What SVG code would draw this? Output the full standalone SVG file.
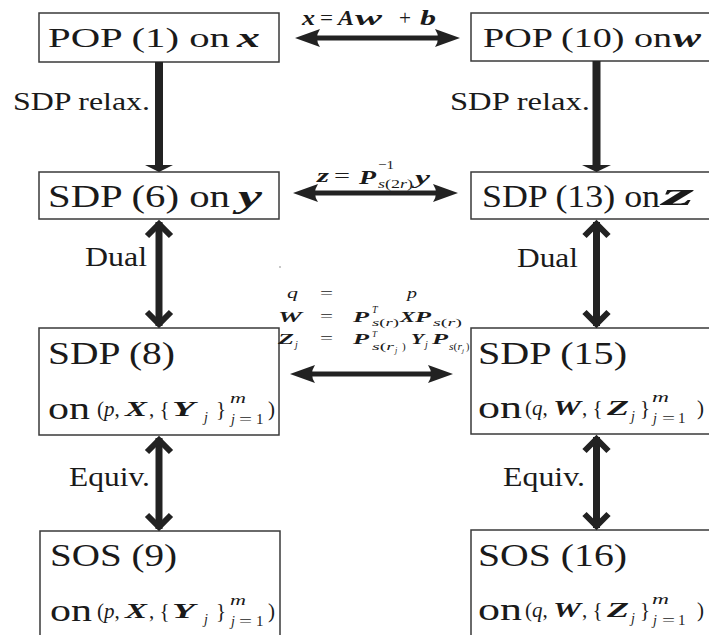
<svg xmlns="http://www.w3.org/2000/svg" width="709" height="635" viewBox="0 0 709 635" font-family="'Liberation Serif','DejaVu Serif','Noto Serif',serif">
<style>
.box{fill:#fff;stroke:#3a3a3a;stroke-width:1.5}
text{font-family:'Liberation Serif','DejaVu Serif','Noto Serif',serif;fill:#1a1a1a}
.bi{font-weight:bold;font-style:italic}
.i{font-style:italic}
.shaft{stroke:#222;stroke-width:8;fill:none}
.dshaft{stroke:#222;stroke-width:7;fill:none}
.chev{fill:none;stroke:#222;stroke-width:6;stroke-linejoin:miter}
.hshaft{stroke:#222;stroke-width:5}
.head{fill:#222}
</style>
<rect width="709" height="635" fill="#fff"/>

<g id="pop1">
<rect class="box" x="39" y="13" width="240" height="49"/>
<text x="48" y="47" font-size="28" textLength="182" lengthAdjust="spacingAndGlyphs">POP (1) on</text>
<text class="bi" x="237" y="47" font-size="28" textLength="23" lengthAdjust="spacingAndGlyphs">x</text>
</g>

<g id="pop10">
<rect class="box" x="471" y="13" width="245" height="48"/>
<text x="483" y="47" font-size="28" textLength="189" lengthAdjust="spacingAndGlyphs">POP (10) on</text>
<text class="bi" x="673" y="47" font-size="28" textLength="28" lengthAdjust="spacingAndGlyphs">w</text>
</g>

<g id="sdp6">
<rect class="box" x="39" y="172" width="240" height="47"/>
<text x="48" y="207" font-size="31" textLength="182" lengthAdjust="spacingAndGlyphs">SDP (6) on</text>
<text class="bi" x="238" y="207" font-size="31" textLength="24" lengthAdjust="spacingAndGlyphs">y</text>
</g>

<g id="sdp13">
<rect class="box" x="471" y="172" width="245" height="47"/>
<text x="482" y="207" font-size="31" textLength="178" lengthAdjust="spacingAndGlyphs">SDP (13) on</text>
<text class="bi" x="662" y="205" font-size="31" textLength="32" lengthAdjust="spacingAndGlyphs">z</text>
</g>

<g id="sdp8">
<rect class="box" x="39" y="328" width="240" height="107"/>
<text x="48" y="364" font-size="31" textLength="127" lengthAdjust="spacingAndGlyphs">SDP (8)</text>
<text x="48" y="419" font-size="31" textLength="42" lengthAdjust="spacingAndGlyphs">on</text>
<text x="97" y="416" font-size="21">(<tspan class="i">p</tspan>, </text>
<text class="bi" x="125" y="416" font-size="21" textLength="22" lengthAdjust="spacingAndGlyphs">X</text>
<text x="149" y="416" font-size="21">, {</text>
<text class="bi" x="172" y="416" font-size="21" textLength="23" lengthAdjust="spacingAndGlyphs">Y</text>
<text class="i" x="204" y="422" font-size="14">j</text>
<text x="216" y="416" font-size="21">}</text>
<text class="i" x="230" y="403" font-size="14" textLength="16" lengthAdjust="spacingAndGlyphs">m</text>
<text class="i" x="231" y="424" font-size="14">j</text>
<text x="239" y="424" font-size="15" textLength="13" lengthAdjust="spacingAndGlyphs">=</text>
<text x="256" y="424" font-size="15">1</text>
<text x="268" y="416" font-size="21">)</text>
</g>

<g id="sdp15">
<rect class="box" x="471" y="328" width="245" height="106"/>
<text x="478" y="364" font-size="31" textLength="149" lengthAdjust="spacingAndGlyphs">SDP (15)</text>
<text x="478" y="418" font-size="31" textLength="44" lengthAdjust="spacingAndGlyphs">on</text>
<text x="525" y="415" font-size="21">(<tspan class="i">q</tspan>, </text>
<text class="bi" x="553" y="415" font-size="21" textLength="28" lengthAdjust="spacingAndGlyphs">W</text>
<text x="582" y="415" font-size="21">, {</text>
<text class="bi" x="607" y="415" font-size="21" textLength="22" lengthAdjust="spacingAndGlyphs">Z</text>
<text class="i" x="631" y="421" font-size="14">j</text>
<text x="640" y="415" font-size="21">}</text>
<text class="i" x="652" y="402" font-size="14" textLength="17" lengthAdjust="spacingAndGlyphs">m</text>
<text class="i" x="653" y="423" font-size="14">j</text>
<text x="662" y="423" font-size="15" textLength="13" lengthAdjust="spacingAndGlyphs">=</text>
<text x="678" y="423" font-size="15">1</text>
<text x="697" y="415" font-size="21">)</text>
</g>

<g id="sos9">
<rect class="box" x="40" y="531" width="240" height="110"/>
<text x="50" y="566" font-size="31" textLength="127" lengthAdjust="spacingAndGlyphs">SOS (9)</text>
<text x="50" y="621" font-size="31" textLength="42" lengthAdjust="spacingAndGlyphs">on</text>
<text x="97" y="618" font-size="21">(<tspan class="i">p</tspan>, </text>
<text class="bi" x="125" y="618" font-size="21" textLength="22" lengthAdjust="spacingAndGlyphs">X</text>
<text x="149" y="618" font-size="21">, {</text>
<text class="bi" x="172" y="618" font-size="21" textLength="23" lengthAdjust="spacingAndGlyphs">Y</text>
<text class="i" x="204" y="624" font-size="14">j</text>
<text x="216" y="618" font-size="21">}</text>
<text class="i" x="230" y="605" font-size="14" textLength="16" lengthAdjust="spacingAndGlyphs">m</text>
<text class="i" x="231" y="626" font-size="14">j</text>
<text x="239" y="626" font-size="15" textLength="13" lengthAdjust="spacingAndGlyphs">=</text>
<text x="256" y="626" font-size="15">1</text>
<text x="268" y="618" font-size="21">)</text>
</g>

<g id="sos16">
<rect class="box" x="471" y="530" width="245" height="110"/>
<text x="478" y="566" font-size="31" textLength="149" lengthAdjust="spacingAndGlyphs">SOS (16)</text>
<text x="478" y="620" font-size="31" textLength="44" lengthAdjust="spacingAndGlyphs">on</text>
<text x="525" y="617" font-size="21">(<tspan class="i">q</tspan>, </text>
<text class="bi" x="553" y="617" font-size="21" textLength="28" lengthAdjust="spacingAndGlyphs">W</text>
<text x="582" y="617" font-size="21">, {</text>
<text class="bi" x="607" y="617" font-size="21" textLength="22" lengthAdjust="spacingAndGlyphs">Z</text>
<text class="i" x="631" y="623" font-size="14">j</text>
<text x="640" y="617" font-size="21">}</text>
<text class="i" x="652" y="604" font-size="14" textLength="17" lengthAdjust="spacingAndGlyphs">m</text>
<text class="i" x="653" y="625" font-size="14">j</text>
<text x="662" y="625" font-size="15" textLength="13" lengthAdjust="spacingAndGlyphs">=</text>
<text x="678" y="625" font-size="15">1</text>
<text x="697" y="617" font-size="21">)</text>
</g>

<g id="connectors">
<line class="shaft" x1="159" y1="62" x2="159" y2="166"/>
<polygon class="head" points="145,165 173,165 159,172"/>
<line class="shaft" x1="596.5" y1="61" x2="596.5" y2="166"/>
<polygon class="head" points="582,165 611,165 596.5,172"/>
<line class="dshaft" x1="159" y1="222" x2="159" y2="326"/>
<polyline class="chev" points="147,236 159,224 171,236"/>
<polyline class="chev" points="147,312 159,324 171,312"/>
<line class="dshaft" x1="596.5" y1="222" x2="596.5" y2="326"/>
<polyline class="chev" points="584.5,236 596.5,224 608.5,236"/>
<polyline class="chev" points="584.5,312 596.5,324 608.5,312"/>
<line class="dshaft" x1="159" y1="438" x2="159" y2="529"/>
<polyline class="chev" points="147,452 159,440 171,452"/>
<polyline class="chev" points="147,515 159,527 171,515"/>
<line class="dshaft" x1="596.5" y1="437" x2="596.5" y2="528"/>
<polyline class="chev" points="584.5,451 596.5,439 608.5,451"/>
<polyline class="chev" points="584.5,514 596.5,526 608.5,514"/>
<line class="hshaft" x1="310" y1="38" x2="445" y2="38"/>
<path class="head" d="M295,38 L320,29 Q314,38 320,47 Z"/>
<path class="head" d="M460,38 L435,29 Q441,38 435,47 Z"/>
<line class="hshaft" x1="308" y1="193" x2="443" y2="193"/>
<path class="head" d="M293,193 L318,184 Q312,193 318,202 Z"/>
<path class="head" d="M458,193 L433,184 Q439,193 433,202 Z"/>
<line class="hshaft" x1="305" y1="374" x2="438" y2="374"/>
<path class="head" d="M290,374 L315,365 Q309,374 315,383 Z"/>
<path class="head" d="M453,374 L428,365 Q434,374 428,383 Z"/>
</g>

<g id="labels">
<text x="13" y="110" font-size="25" textLength="137" lengthAdjust="spacingAndGlyphs">SDP relax.</text>
<text x="450" y="110" font-size="25" textLength="140" lengthAdjust="spacingAndGlyphs">SDP relax.</text>
<text x="85" y="266" font-size="27" textLength="62" lengthAdjust="spacingAndGlyphs">Dual</text>
<text x="517" y="267" font-size="27" textLength="61" lengthAdjust="spacingAndGlyphs">Dual</text>
<text x="69" y="486" font-size="27" textLength="81" lengthAdjust="spacingAndGlyphs">Equiv.</text>
<text x="503" y="486" font-size="27" textLength="82" lengthAdjust="spacingAndGlyphs">Equiv.</text>

<text class="bi" x="302" y="25" font-size="20" textLength="13" lengthAdjust="spacingAndGlyphs">x</text>
<text x="320" y="25" font-size="20" textLength="13" lengthAdjust="spacingAndGlyphs">=</text>
<text class="bi" x="338" y="25" font-size="20" textLength="16" lengthAdjust="spacingAndGlyphs">A</text>
<text class="bi" x="355" y="25" font-size="20" textLength="27" lengthAdjust="spacingAndGlyphs">w</text>
<text x="399" y="25" font-size="20" textLength="12" lengthAdjust="spacingAndGlyphs">+</text>
<text class="bi" x="420" y="25" font-size="20" textLength="16" lengthAdjust="spacingAndGlyphs">b</text>

<text class="bi" x="317" y="182" font-size="19" textLength="12" lengthAdjust="spacingAndGlyphs">z</text>
<text x="334" y="182" font-size="19" textLength="16" lengthAdjust="spacingAndGlyphs">=</text>
<text class="bi" x="359" y="184" font-size="19" textLength="17" lengthAdjust="spacingAndGlyphs">P</text>
<text x="378" y="169" font-size="13" textLength="16" lengthAdjust="spacingAndGlyphs">−1</text>
<text x="378" y="188" font-size="13" textLength="35" lengthAdjust="spacingAndGlyphs"><tspan class="i">s</tspan>(2<tspan class="i">r</tspan>)</text>
<text class="bi" x="415" y="184" font-size="19" textLength="15" lengthAdjust="spacingAndGlyphs">y</text>

<circle cx="280" cy="267" r="0.7" fill="#666"/>

<text class="i" x="287" y="298" font-size="15" textLength="11" lengthAdjust="spacingAndGlyphs">q</text>
<text x="320" y="298" font-size="15" textLength="13" lengthAdjust="spacingAndGlyphs">=</text>
<text class="i" x="407" y="298" font-size="15" textLength="10" lengthAdjust="spacingAndGlyphs">p</text>

<text class="bi" x="278" y="322" font-size="15" textLength="24" lengthAdjust="spacingAndGlyphs">W</text>
<text x="320" y="321" font-size="15" textLength="13" lengthAdjust="spacingAndGlyphs">=</text>
<text class="bi" x="353" y="322" font-size="15" textLength="16" lengthAdjust="spacingAndGlyphs">P</text>
<text class="i" x="372" y="313" font-size="10">T</text>
<text x="372" y="326" font-size="10" textLength="27" lengthAdjust="spacingAndGlyphs"><tspan class="i">s</tspan>(<tspan class="i">r</tspan>)</text>
<text class="bi" x="400" y="322" font-size="15" textLength="15" lengthAdjust="spacingAndGlyphs">X</text>
<text class="bi" x="415" y="322" font-size="15" textLength="16" lengthAdjust="spacingAndGlyphs">P</text>
<text x="433" y="326" font-size="10" textLength="29" lengthAdjust="spacingAndGlyphs"><tspan class="i">s</tspan>(<tspan class="i">r</tspan>)</text>

<text class="bi" x="278" y="344" font-size="15" textLength="16" lengthAdjust="spacingAndGlyphs">Z</text>
<text class="i" x="295" y="348" font-size="10">j</text>
<text x="320" y="343" font-size="15" textLength="13" lengthAdjust="spacingAndGlyphs">=</text>
<text class="bi" x="353" y="344" font-size="15" textLength="16" lengthAdjust="spacingAndGlyphs">P</text>
<text class="i" x="372" y="337" font-size="9">T</text>
<text x="372" y="350" font-size="11" textLength="22" lengthAdjust="spacingAndGlyphs"><tspan class="i">s</tspan>(<tspan class="i">r</tspan></text>
<text class="i" x="395" y="353" font-size="8">j</text>
<text x="402" y="350" font-size="11">)</text>
<text class="bi" x="411" y="344" font-size="15" textLength="13" lengthAdjust="spacingAndGlyphs">Y</text>
<text class="i" x="425" y="348" font-size="10">j</text>
<text class="bi" x="432" y="344" font-size="15" textLength="16" lengthAdjust="spacingAndGlyphs">P</text>
<text x="449" y="350" font-size="10" textLength="13" lengthAdjust="spacingAndGlyphs"><tspan class="i">s</tspan>(<tspan class="i">r</tspan></text>
<text class="i" x="462" y="353" font-size="7">j</text>
<text x="466" y="350" font-size="10">)</text>
</g>
</svg>
